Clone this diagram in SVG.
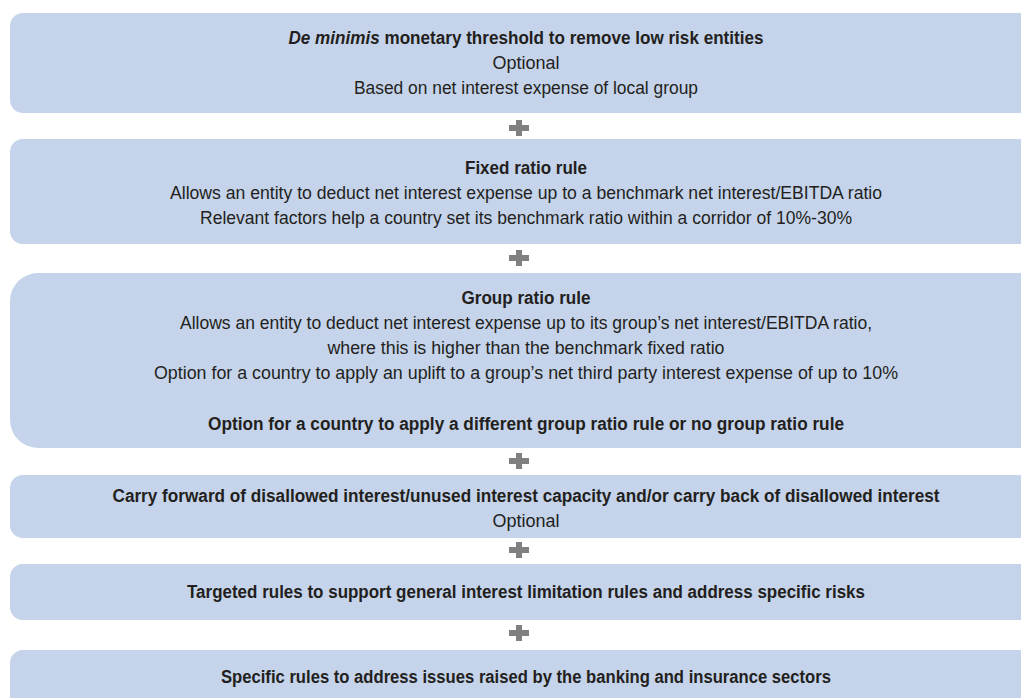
<svg xmlns="http://www.w3.org/2000/svg" width="1021" height="698" viewBox="0 0 1021 698">
  <style>
    .box { fill: #c5d4ea; }
    .plus { fill: #808080; }
    text { font-family: "Liberation Sans", Arial, sans-serif; font-size: 17.5px; fill: #231f20; text-anchor: middle; }
    .b { font-weight: bold; }
    .i { font-style: italic; }
  </style>
  <defs>
    <!-- plus sign joining two stacked rule boxes -->
    <g id="plusSign">
      <rect x="-10" y="-3" width="20" height="6"/>
      <rect x="-3" y="-8" width="6" height="16"/>
    </g>
  </defs>

  <rect width="1021" height="698" fill="#ffffff"/>

  <!-- connectors: plus signs between boxes -->
  <g id="connectors" class="plus">
    <use href="#plusSign" x="519" y="128"/>
    <use href="#plusSign" x="519" y="258"/>
    <use href="#plusSign" x="519" y="461"/>
    <use href="#plusSign" x="519" y="550"/>
    <use href="#plusSign" x="519" y="633"/>
  </g>

  <g id="deMinimis">
    <path class="box" d="M23,13 H1030 V113 H23 A13,13 0 0 1 10,100 V26 A13,13 0 0 1 23,13 Z"/>
    <text x="526" y="44" class="b" textLength="475" lengthAdjust="spacingAndGlyphs"><tspan class="i">De minimis</tspan> monetary threshold to remove low risk entities</text>
    <text x="526" y="69" textLength="67" lengthAdjust="spacingAndGlyphs">Optional</text>
    <text x="526" y="94" textLength="344" lengthAdjust="spacingAndGlyphs">Based on net interest expense of local group</text>
  </g>

  <g id="fixedRatio">
    <path class="box" d="M23,139 H1030 V244 H23 A13,13 0 0 1 10,231 V152 A13,13 0 0 1 23,139 Z"/>
    <text x="526" y="174" class="b" textLength="122" lengthAdjust="spacingAndGlyphs">Fixed ratio rule</text>
    <text x="526" y="199" textLength="712" lengthAdjust="spacingAndGlyphs">Allows an entity to deduct net interest expense up to a benchmark net interest/EBITDA ratio</text>
    <text x="526" y="224" textLength="652" lengthAdjust="spacingAndGlyphs">Relevant factors help a country set its benchmark ratio within a corridor of 10%-30%</text>
  </g>

  <g id="groupRatio">
    <path class="box" d="M38,273 H1030 V448 H38 A28,28 0 0 1 10,420 V301 A28,28 0 0 1 38,273 Z"/>
    <text x="526" y="304" class="b" textLength="129" lengthAdjust="spacingAndGlyphs">Group ratio rule</text>
    <text x="526" y="329" textLength="692" lengthAdjust="spacingAndGlyphs">Allows an entity to deduct net interest expense up to its group’s net interest/EBITDA ratio,</text>
    <text x="526" y="354" textLength="397" lengthAdjust="spacingAndGlyphs">where this is higher than the benchmark fixed ratio</text>
    <text x="526" y="379" textLength="744" lengthAdjust="spacingAndGlyphs">Option for a country to apply an uplift to a group’s net third party interest expense of up to 10%</text>
    <text x="526" y="430" class="b" textLength="636" lengthAdjust="spacingAndGlyphs">Option for a country to apply a different group ratio rule or no group ratio rule</text>
  </g>

  <g id="carryForward">
    <path class="box" d="M23,475 H1030 V538 H23 A13,13 0 0 1 10,525 V488 A13,13 0 0 1 23,475 Z"/>
    <text x="526" y="502" class="b" textLength="827" lengthAdjust="spacingAndGlyphs">Carry forward of disallowed interest/unused interest capacity and/or carry back of disallowed interest</text>
    <text x="526" y="527" textLength="67" lengthAdjust="spacingAndGlyphs">Optional</text>
  </g>

  <g id="targetedRules">
    <path class="box" d="M23,564 H1030 V620 H23 A13,13 0 0 1 10,607 V577 A13,13 0 0 1 23,564 Z"/>
    <text x="526" y="598" class="b" textLength="678" lengthAdjust="spacingAndGlyphs">Targeted rules to support general interest limitation rules and address specific risks</text>
  </g>

  <g id="sectorRules">
    <path class="box" d="M23,650 H1030 V710 H23 A13,13 0 0 1 10,697 V663 A13,13 0 0 1 23,650 Z"/>
    <text x="526" y="683" class="b" textLength="610" lengthAdjust="spacingAndGlyphs">Specific rules to address issues raised by the banking and insurance sectors</text>
  </g>
</svg>
